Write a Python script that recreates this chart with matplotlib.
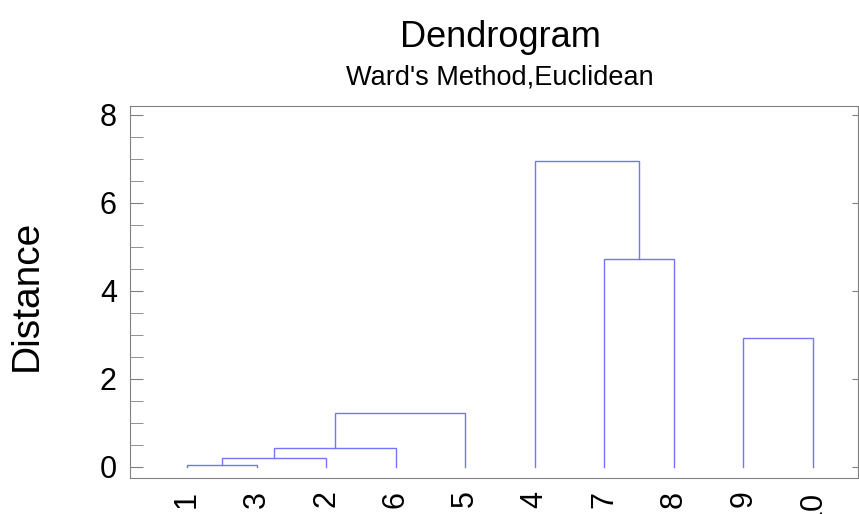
import matplotlib
matplotlib.use("Agg")
import matplotlib.pyplot as plt

# Data
leaf_labels = ["1", "3", "2", "6", "5", "4", "7", "8", "9", "10"]
# merges: (left member, right member, height); members are leaf labels or merge indices "c0", "c1", ...
merge_left = ["1", "c0", "c1", "c2", "7", "4", "9"]
merge_right = ["3", "2", "6", "5", "8", "c4", "10"]
merge_height = [0.05, 0.21, 0.44, 1.22, 4.72, 6.95, 2.94]
y_major = [0, 2, 4, 6, 8]
y_minor = [i * 0.5 for i in range(17)]

plt.rcParams['font.family'] = ['Liberation Sans', 'DejaVu Sans']

fig = plt.figure(figsize=(8.59, 5.14), dpi=100)
ax = fig.add_axes([130/859, 1-478/514, 728/859, (478-106)/514])

pos = {lab: (i + 1.0, 0.0) for i, lab in enumerate(leaf_labels)}
color = '#7474ff'
for k, (l, r, h) in enumerate(zip(merge_left, merge_right, merge_height)):
    xl, yl = pos[l]
    xr, yr = pos[r]
    ax.plot([xl, xl, xr, xr], [yl, h, h, yr], color=color, lw=1.0,
            solid_joinstyle='miter')
    pos["c%d" % k] = ((xl + xr) / 2.0, h)

ax.set_xlim(0.18, 10.65)
ax.set_ylim(-0.25, 8.2)
ax.set_xticks(range(1, len(leaf_labels) + 1))
ax.set_xticklabels(leaf_labels, rotation=90, fontsize=22, va='top')
ax.tick_params(axis='x', length=0, pad=9)
ax.set_yticks(y_major)
ax.set_yticks(y_minor, minor=True)
ax.tick_params(axis='y', which='both', direction='in', length=9, color='#808080',
               labelsize=22, pad=9.5)
ax.tick_params(axis='y', which='minor', right=False)
ax.tick_params(axis='y', which='major', right=True)
for sp in ax.spines.values():
    sp.set_color('#808080')

# shorter right-side ticks
for t in ax.yaxis.get_major_ticks():
    t.tick2line.set_markersize(4)

fig.text(500/859, 1-47/514, "Dendrogram", ha='center', va='baseline', fontsize=26)
fig.text(500/859, 1-85/514, "Ward's Method,Euclidean", ha='center', va='baseline', fontsize=19.5)
fig.text(27/859, 1-295/514, "Distance", ha='center', va='center', rotation=90, fontsize=28)

fig.savefig("out.png", dpi=100)
